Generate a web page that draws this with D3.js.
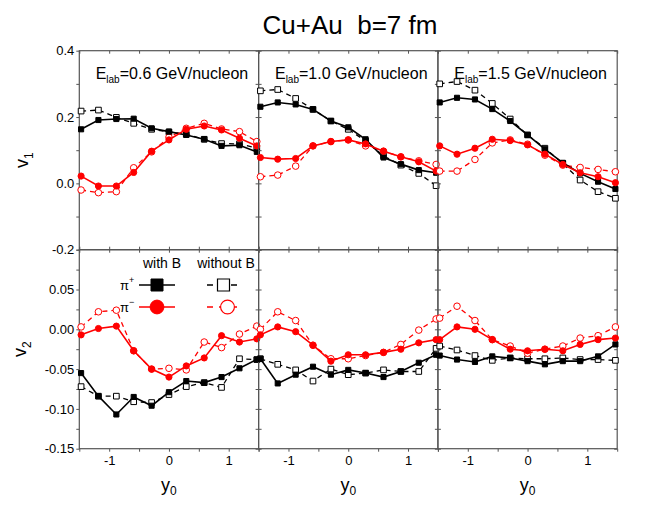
<!DOCTYPE html>
<html>
<head>
<meta charset="utf-8">
<script src="https://cdn.jsdelivr.net/npm/d3@7"></script>
<style>
  body { margin: 0; background: #fff; }
  svg { font-family: "Liberation Sans", Arial, sans-serif; }
</style>
</head>
<body>
<svg id="chart" width="664" height="510"></svg>
<script>
// rapidity bins (y0) shared by all panels
const y0Bins = [-1.47, -1.18, -0.88, -0.59, -0.29, 0, 0.29, 0.59, 0.88, 1.18, 1.47];
const energies = ["0.6", "1.0", "1.5"];

// v1, one row per beam energy
const v1PipWithB = [
  [0.163, 0.191, 0.194, 0.195, 0.166, 0.156, 0.146, 0.133, 0.113, 0.115, 0.095],
  [0.231, 0.244, 0.238, 0.223, 0.188, 0.169, 0.133, 0.078, 0.058, 0.040, 0.032],
  [0.244, 0.258, 0.253, 0.224, 0.188, 0.146, 0.103, 0.062, 0.030, 0.005, -0.017]
];
const v1PipNoB = [
  [0.218, 0.221, 0.199, 0.181, 0.163, 0.155, 0.148, 0.133, 0.120, 0.119, 0.106],
  [0.279, 0.283, 0.256, 0.223, 0.188, 0.163, 0.128, 0.083, 0.055, 0.030, -0.007],
  [0.300, 0.307, 0.281, 0.241, 0.194, 0.146, 0.106, 0.060, 0.010, -0.025, -0.045]
];
const v1PimWithB = [
  [0.022, -0.008, -0.008, 0.033, 0.097, 0.131, 0.163, 0.173, 0.161, 0.136, 0.113],
  [0.078, 0.073, 0.075, 0.113, 0.126, 0.131, 0.119, 0.097, 0.080, 0.065, 0.037],
  [0.113, 0.088, 0.106, 0.133, 0.129, 0.116, 0.088, 0.057, 0.032, 0.020, 0.002]
];
const v1PimNoB = [
  [-0.020, -0.028, -0.025, 0.047, 0.095, 0.139, 0.166, 0.181, 0.164, 0.156, 0.126],
  [0.020, 0.025, 0.052, 0.113, 0.126, 0.131, 0.113, 0.097, 0.080, 0.068, 0.057],
  [0.037, 0.037, 0.072, 0.122, 0.131, 0.118, 0.085, 0.055, 0.048, 0.042, 0.035]
];

// v2
const v2PipWithB = [
  [-0.055, -0.084, -0.107, -0.085, -0.096, -0.079, -0.065, -0.067, -0.060, -0.049, -0.038],
  [-0.037, -0.068, -0.057, -0.047, -0.057, -0.051, -0.055, -0.060, -0.053, -0.042, -0.032],
  [-0.033, -0.038, -0.041, -0.034, -0.036, -0.040, -0.044, -0.040, -0.040, -0.034, -0.019]
];
const v2PipNoB = [
  [-0.072, -0.084, -0.084, -0.091, -0.092, -0.082, -0.072, -0.067, -0.073, -0.037, -0.038],
  [-0.037, -0.044, -0.051, -0.065, -0.050, -0.057, -0.055, -0.051, -0.053, -0.053, -0.024],
  [-0.021, -0.026, -0.033, -0.039, -0.036, -0.037, -0.037, -0.036, -0.038, -0.038, -0.039]
];
const v2PimWithB = [
  [-0.007, 0.001, 0.004, -0.027, -0.050, -0.060, -0.046, -0.036, -0.008, -0.016, -0.012],
  [-0.007, 0.003, -0.003, -0.020, -0.040, -0.032, -0.032, -0.029, -0.025, -0.017, -0.013],
  [-0.013, 0.003, 0.000, -0.013, -0.025, -0.027, -0.025, -0.027, -0.019, -0.013, -0.011]
];
const v2PimNoB = [
  [0.003, 0.022, 0.024, -0.027, -0.050, -0.049, -0.051, -0.016, -0.023, -0.006, 0.004],
  [0.000, 0.022, 0.011, -0.020, -0.037, -0.037, -0.033, -0.029, -0.019, -0.001, 0.013],
  [0.014, 0.029, 0.011, -0.013, -0.021, -0.030, -0.025, -0.021, -0.011, -0.008, 0.003]
];

// ticks
const xTicks = [-1.5, -1, -0.5, 0, 0.5, 1, 1.5];
const xLabeled = [-1, 0, 1];
const v1Ticks = [-0.2, -0.1, 0, 0.1, 0.2, 0.3, 0.4];
const v1Labeled = [-0.2, 0, 0.2, 0.4];
const v2Ticks = [-0.15, -0.125, -0.1, -0.075, -0.05, -0.025, 0, 0.025, 0.05, 0.075, 0.1];
const v2Labeled = [-0.15, -0.1, -0.05, 0, 0.05];

const legendHeads = ["with B", "without B"];
const legendRows = [
  { name: "π", sup: "+", color: "#000", shape: "square" },
  { name: "π", sup: "−", color: "#f00", shape: "circle" }
];

const series = [
  { v1: v1PipNoB, v2: v2PipNoB, color: "#000", shape: "square", filled: false },
  { v1: v1PimNoB, v2: v2PimNoB, color: "#f00", shape: "circle", filled: false },
  { v1: v1PipWithB, v2: v2PipWithB, color: "#000", shape: "square", filled: true },
  { v1: v1PimWithB, v2: v2PimWithB, color: "#f00", shape: "circle", filled: true }
];

const svg = d3.select("#chart");
const plotLeft = 79.3, colW = 179.3, plotTop = 50.7, rowH = 199;
const frameColor = "#555";

const symbolFor = (shape, big, filled) => d3.symbol()
  .type(shape === "square" ? d3.symbolSquare : d3.symbolCircle)
  .size(big ? (shape === "square" ? 144 : 150) : (filled ? (shape === "square" ? 26 : 30) : (shape === "square" ? 32 : 34)));

function styleAxis(g) {
  g.select(".domain").remove();
  g.selectAll(".tick line").attr("stroke", frameColor);
  g.selectAll(".tick text").attr("fill", "#000").attr("font-size", 13)
    .attr("font-family", "'Liberation Sans', Arial, sans-serif");
}

function drawPanel(row, col) {
  const x0 = plotLeft + col * colW;
  const yTop = plotTop + row * rowH;
  const x = d3.scaleLinear().domain([-1.5, 1.5]).range([x0, x0 + colW]);
  const y = d3.scaleLinear()
    .domain(row === 0 ? [-0.2, 0.4] : [-0.15, 0.1])
    .range([yTop + rowH, yTop]);
  const yTicks = row === 0 ? v1Ticks : v2Ticks;
  const yLabeled = row === 0 ? v1Labeled : v2Labeled;
  const yFmt = d => yLabeled.includes(d) ? d.toFixed(row === 0 ? 1 : 2) : "";

  const g = svg.append("g");

  // axes: outer ticks on left/bottom, inward mirror ticks on top/right
  if (col === 0) {
    g.append("g").attr("transform", `translate(${x0},0)`)
      .call(d3.axisLeft(y).tickValues(yTicks).tickSize(3).tickPadding(2).tickFormat(yFmt))
      .call(styleAxis);
  } else {
    g.append("g").attr("transform", `translate(${x0},0)`)
      .call(d3.axisLeft(y).tickValues(yTicks).tickSize(-3).tickFormat(""))
      .call(styleAxis);
  }
  g.append("g").attr("transform", `translate(${x0 + colW},0)`)
    .call(d3.axisRight(y).tickValues(yTicks).tickSize(-3).tickFormat(""))
    .call(styleAxis);
  g.append("g").attr("transform", `translate(0,${yTop})`)
    .call(d3.axisTop(x).tickValues(xTicks).tickSize(-3).tickFormat(""))
    .call(styleAxis);
  if (row === 1) {
    g.append("g").attr("transform", `translate(0,${yTop + rowH})`)
      .call(d3.axisBottom(x).tickValues(xTicks).tickSize(3).tickPadding(4)
        .tickFormat(d => xLabeled.includes(d) ? String(d) : ""))
      .call(styleAxis);
  } else {
    g.append("g").attr("transform", `translate(0,${yTop + rowH})`)
      .call(d3.axisBottom(x).tickValues(xTicks).tickSize(-3).tickFormat(""))
      .call(styleAxis);
  }

  g.append("rect")
    .attr("x", x0).attr("y", yTop).attr("width", colW).attr("height", rowH)
    .attr("fill", "none").attr("stroke", frameColor).attr("stroke-width", 1.2);

  const line = d3.line().x((d, i) => x(y0Bins[i])).y(d => y(d));

  series.forEach(s => {
    const vals = (row === 0 ? s.v1 : s.v2)[col];
    g.append("path")
      .attr("d", line(vals))
      .attr("fill", "none")
      .attr("stroke", s.color)
      .attr("stroke-width", s.filled ? 1.6 : 1.3)
      .attr("stroke-dasharray", s.filled ? null : "5,4");
    g.selectAll(null).data(vals).enter().append("path")
      .attr("d", symbolFor(s.shape, false, s.filled))
      .attr("transform", (d, i) => `translate(${x(y0Bins[i])},${y(d)})`)
      .attr("fill", s.filled ? s.color : "#fff")
      .attr("stroke", s.color)
      .attr("stroke-width", 1);
  });

  if (row === 0) {
    const lbl = g.append("text")
      .attr("x", (x(-1.5) + x(1.5)) / 2 + 3).attr("y", yTop + 28)
      .attr("text-anchor", "middle").attr("font-size", 16);
    lbl.append("tspan").text("E");
    lbl.append("tspan").attr("font-size", 10).attr("dy", 4).text("lab");
    lbl.append("tspan").attr("dy", -4).text("=" + energies[col] + " GeV/nucleon");
  } else {
    const xl = g.append("text")
      .attr("x", x(0)).attr("y", yTop + rowH + 42)
      .attr("text-anchor", "middle").attr("font-size", 18);
    xl.append("tspan").text("y");
    xl.append("tspan").attr("font-size", 12).attr("dy", 4).text("0");
  }
}

[0, 1].forEach(row => [0, 1, 2].forEach(col => drawPanel(row, col)));

// y axis titles
[["1", 28, plotTop + rowH * 0.55], ["2", 26, plotTop + rowH * 1.5]].forEach(([sub, tx, ty]) => {
  const t = svg.append("text")
    .attr("transform", `translate(${tx},${ty}) rotate(-90)`)
    .attr("text-anchor", "middle").attr("font-size", 18);
  t.append("tspan").text("v");
  t.append("tspan").attr("font-size", 12).attr("dy", 5).text(sub);
});

svg.append("text")
  .attr("x", 350).attr("y", 34)
  .attr("text-anchor", "middle").attr("font-size", 26)
  .style("white-space", "pre")
  .text("Cu+Au  b=7 fm");

// legend in the lower-left panel
const leg = svg.append("g");
legendHeads.forEach((h, i) => {
  leg.append("text")
    .attr("x", 162 + i * 64).attr("y", 268)
    .attr("text-anchor", "middle").attr("font-size", 14)
    .text(h);
});
legendRows.forEach((r, i) => {
  const ly = 285 + i * 22;
  const t = leg.append("text").attr("x", 120).attr("y", ly + 5).attr("font-size", 13);
  t.append("tspan").text(r.name);
  t.append("tspan").attr("font-size", 9).attr("dy", -7).text(r.sup);
  leg.append("line")
    .attr("x1", 139).attr("x2", 175).attr("y1", ly).attr("y2", ly)
    .attr("stroke", r.color).attr("stroke-width", 1.6);
  leg.append("path")
    .attr("d", symbolFor(r.shape, true, true))
    .attr("transform", `translate(157,${ly})`)
    .attr("fill", r.color).attr("stroke", r.color);
  leg.append("line")
    .attr("x1", 207).attr("x2", 240).attr("y1", ly).attr("y2", ly)
    .attr("stroke", r.color).attr("stroke-width", 1.3).attr("stroke-dasharray", "6,6");
  leg.append("path")
    .attr("d", symbolFor(r.shape, true, false))
    .attr("transform", `translate(${r.shape === "square" ? 223.5 : 227.5},${ly})`)
    .attr("fill", "#fff").attr("stroke", r.color).attr("stroke-width", 1.2);
});
</script>
</body>
</html>
